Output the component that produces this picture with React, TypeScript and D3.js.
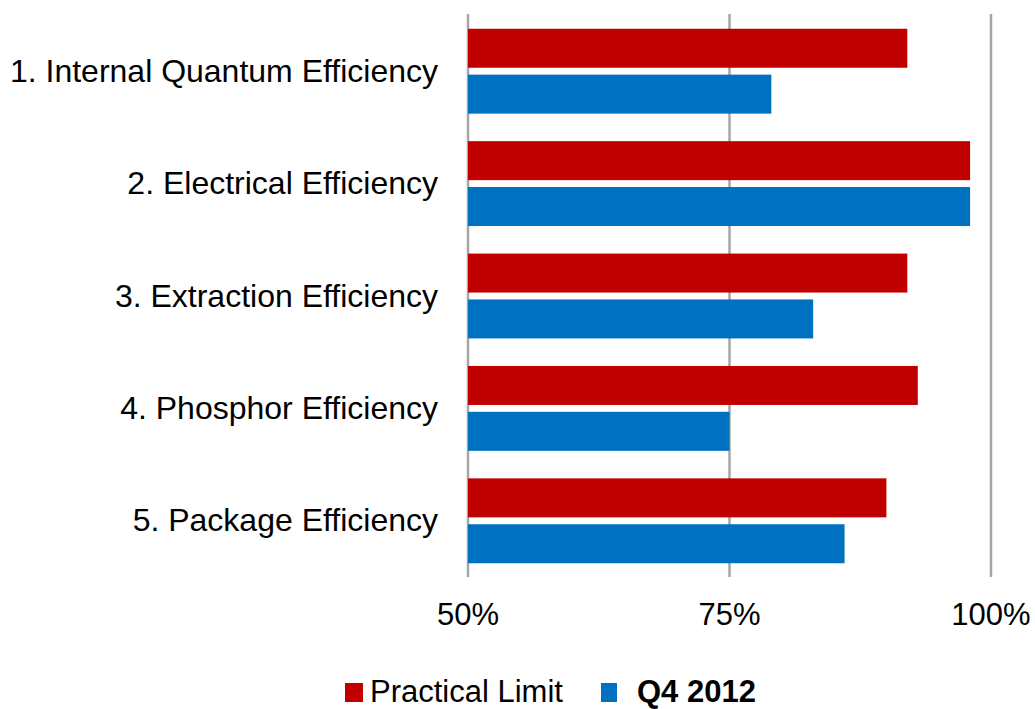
import React from "react";
import * as d3 from "d3";

const categories = [
  "1. Internal Quantum Efficiency",
  "2. Electrical Efficiency",
  "3. Extraction Efficiency",
  "4. Phosphor Efficiency",
  "5. Package Efficiency",
];
const seriesNames = ["Practical Limit", "Q4 2012"];
const practicalLimit = [92, 98, 92, 93, 90];
const q42012 = [79, 98, 83, 75, 86];
const xTicks = [50, 75, 100];
const colors = ["#C00000", "#0070C0"];

const W = 1035;
const H = 709;
const FONT = "'Liberation Sans', Arial, sans-serif";

export default function App() {
  const x = d3.scaleLinear().domain([50, 100]).range([468, 991]);
  const y = d3
    .scaleBand<string>()
    .domain(categories)
    .range([15, 577])
    .paddingInner(0.245)
    .paddingOuter(0.1225);
  const sub = d3
    .scaleBand<string>()
    .domain(seriesNames)
    .range([0, y.bandwidth()])
    .paddingInner(0.15);

  const values = [practicalLimit, q42012];
  const legendBaseline = 702;

  return (
    <div style={{ position: "absolute", left: 0, top: 0 }}>
      <svg width={W} height={H} style={{ display: "block", background: "#fff" }}>
        {/* vertical gridlines */}
        {xTicks.map((t) => (
          <line
            key={t}
            x1={x(t)}
            x2={x(t)}
            y1={14}
            y2={577}
            stroke="#A6A6A6"
            strokeWidth={2.5}
          />
        ))}

        {/* bars */}
        {categories.map((c, i) => (
          <g key={c} transform={`translate(0,${y(c)})`}>
            {seriesNames.map((s, j) => (
              <rect
                key={s}
                x={x(50)}
                y={sub(s)}
                width={x(values[j][i]) - x(50)}
                height={sub.bandwidth()}
                fill={colors[j]}
              />
            ))}
          </g>
        ))}

        {/* category labels */}
        {categories.map((c) => (
          <text
            key={c}
            x={438}
            y={(y(c) as number) + y.bandwidth() / 2 + 10.5}
            textAnchor="end"
            fontFamily={FONT}
            fontSize={32}
            fill="#000"
          >
            {c}
          </text>
        ))}

        {/* x axis tick labels */}
        {xTicks.map((t) => (
          <text
            key={t}
            x={x(t)}
            y={625}
            textAnchor="middle"
            fontFamily={FONT}
            fontSize={31}
            fill="#000"
          >
            {d3.format(".0f")(t)}%
          </text>
        ))}

        {/* legend */}
        <rect x={345} y={legendBaseline - 19} width={18} height={19} fill={colors[0]} />
        <text x={370} y={legendBaseline} fontFamily={FONT} fontSize={31} fill="#000">
          {seriesNames[0]}
        </text>
        <rect x={601} y={legendBaseline - 19} width={16} height={19} fill={colors[1]} />
        <text
          x={637}
          y={legendBaseline}
          fontFamily={FONT}
          fontSize={31}
          fontWeight="bold"
          fill="#000"
        >
          {seriesNames[1]}
        </text>
      </svg>
    </div>
  );
}
